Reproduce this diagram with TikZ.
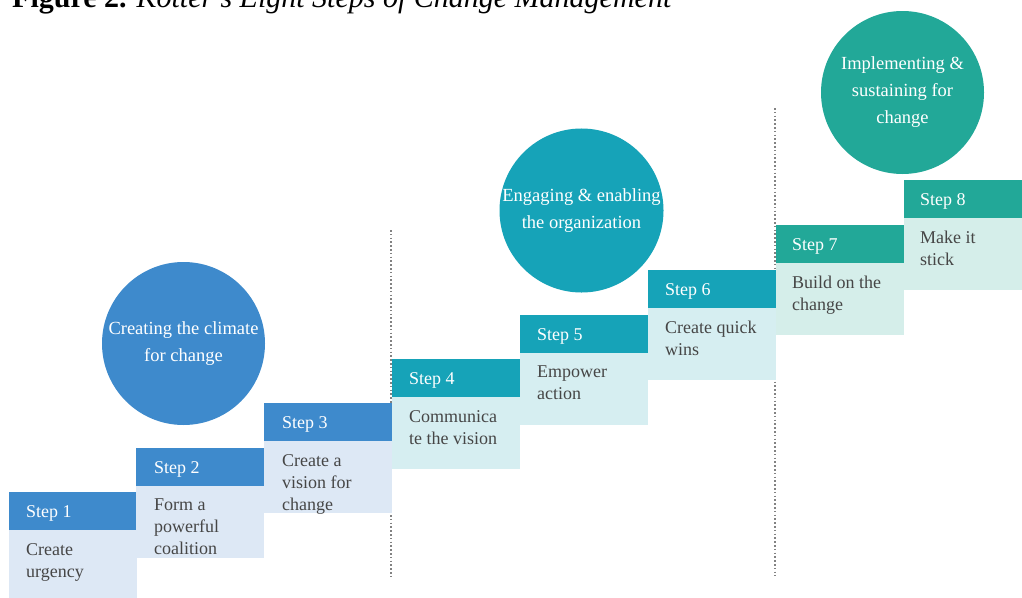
\documentclass[tikz,border=0pt]{standalone}
\usepackage{fontspec}
\setmainfont{Liberation Serif}
\definecolor{hblue}{RGB}{62,138,204}
\definecolor{bblue}{RGB}{221,232,245}
\definecolor{hteal}{RGB}{22,163,184}
\definecolor{bteal}{RGB}{214,238,241}
\definecolor{hgreen}{RGB}{34,168,152}
\definecolor{bgreen}{RGB}{213,238,234}
\definecolor{ctext}{RGB}{70,70,70}
\definecolor{dotgray}{RGB}{130,130,130}
\begin{document}
\begin{tikzpicture}[x=1pt,y=-1pt,
  hdr/.style={rectangle, anchor=north west, minimum width=128pt, minimum height=38pt, inner sep=0pt, outer sep=0pt},
  bdy/.style={rectangle, anchor=north west, minimum width=128pt, minimum height=72pt, inner sep=0pt, outer sep=0pt},
  htext/.style={anchor=west, text=white, font=\fontsize{18}{20}\selectfont, inner sep=0pt},
  btext/.style={anchor=north west, text=ctext, font=\fontsize{18}{22}\selectfont, align=left, inner sep=0pt},
  phase/.style={circle, minimum size=163pt, inner sep=0pt, text=white, align=center, font=\fontsize{18.5}{27}\selectfont},
  divider/.style={draw=dotgray, line width=1.6pt, dash pattern=on 1.6pt off 2.2pt}
]
\useasboundingbox (0,0) rectangle (1022,597);
\fill[white] (0,0) rectangle (1022,597);

% title (cut by the top edge)
\node[anchor=base west, inner sep=0pt, font=\fontsize{30}{34}\selectfont] (title) at (12,8)
  {\bfseries Figure 2. \mdseries\itshape Kotter’s Eight Steps of Change Management};

% dividers
\coordinate (d1a) at (391,230); \coordinate (d1b) at (391,576);
\coordinate (d2a) at (775,108); \coordinate (d2b) at (775,576);
\draw[divider] (d1a) -- (d1b);
\draw[divider] (d2a) -- (d2b);

% phase circles
\node[phase, fill=hblue] (c1) at (183.5,343.5) {Creating the climate\\for change};
\node[phase, fill=hteal] (c2) at (581.5,210.5) {Engaging \& enabling\\the organization};
\node[phase, fill=hgreen] (c3) at (902.5,92.5) {Implementing \&\\sustaining for\\change};

% steps
\node[bdy, fill=bblue] (b1) at (9,530) {};
\node[hdr, fill=hblue] (h1) at (9,492) {};
\node[htext] (t1) at (26,513) {Step 1};
\node[btext] (x1) at (26,543) {Create\\urgency};

\node[bdy, fill=bblue] (b2) at (136,486) {};
\node[hdr, fill=hblue] (h2) at (136,448) {};
\node[htext] (t2) at (154,469) {Step 2};
\node[btext] (x2) at (154,499) {Form a\\powerful\\coalition};

\node[bdy, fill=bblue] (b3) at (264,441) {};
\node[hdr, fill=hblue] (h3) at (264,403) {};
\node[htext] (t3) at (282,424) {Step 3};
\node[btext] (x3) at (282,454) {Create a\\vision for\\change};

\node[bdy, fill=bteal] (b4) at (392,397) {};
\node[hdr, fill=hteal] (h4) at (392,359) {};
\node[htext] (t4) at (409,380) {Step 4};
\node[btext] (x4) at (409,410) {Communica\\te the vision};

\node[bdy, fill=bteal] (b5) at (520,353) {};
\node[hdr, fill=hteal] (h5) at (520,315) {};
\node[htext] (t5) at (537,336) {Step 5};
\node[btext] (x5) at (537,366) {Empower\\action};

\node[bdy, fill=bteal] (b6) at (648,308) {};
\node[hdr, fill=hteal] (h6) at (648,270) {};
\node[htext] (t6) at (665,291) {Step 6};
\node[btext] (x6) at (665,321) {Create quick\\wins};

\node[bdy, fill=bgreen] (b7) at (776,263) {};
\node[hdr, fill=hgreen] (h7) at (776,225) {};
\node[htext] (t7) at (792,246) {Step 7};
\node[btext] (x7) at (792,276) {Build on the\\change};

\node[bdy, fill=bgreen] (b8) at (904,218) {};
\node[hdr, fill=hgreen] (h8) at (904,180) {};
\node[htext] (t8) at (920,201) {Step 8};
\node[btext] (x8) at (920,231) {Make it\\stick};
\end{tikzpicture}
\end{document}
